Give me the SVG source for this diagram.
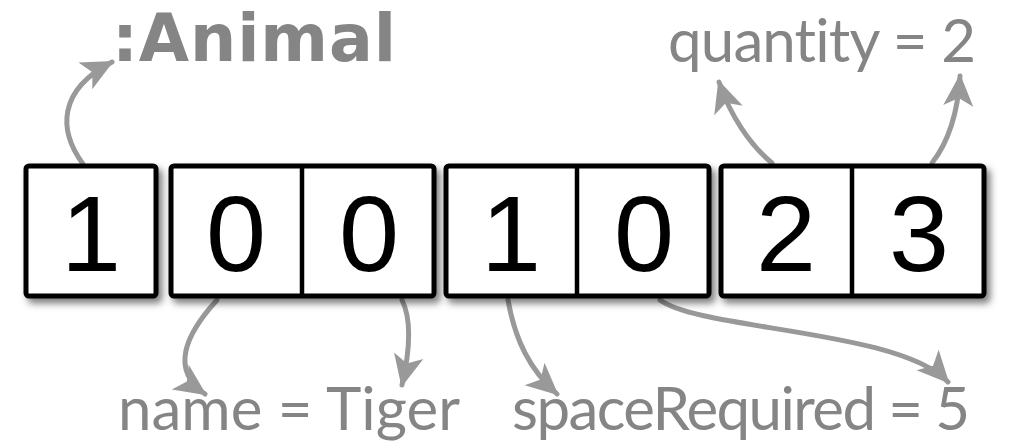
<svg xmlns="http://www.w3.org/2000/svg" width="1023" height="443" viewBox="0 0 1023 443">
<style>
.box{fill:#fff;stroke:#000;stroke-width:5;stroke-linejoin:round}
.div{stroke:#000;stroke-width:4.5}
.dig{font-family:"Liberation Sans",Arial,sans-serif;font-size:108px;fill:#000;text-anchor:middle}
.lbl{font-family:Lato,"Open Sans",sans-serif;fill:#858585;font-variant-ligatures:none;font-size:60px}
.arr{fill:none;stroke:#999;stroke-width:5;stroke-linecap:round}
</style>
<defs>
<filter id="sh" x="-10%" y="-10%" width="130%" height="140%">
<feDropShadow dx="4" dy="5" stdDeviation="3.5" flood-color="#000" flood-opacity="0.5"/>
</filter>
<marker id="ah" markerUnits="userSpaceOnUse" markerWidth="34" markerHeight="34" viewBox="0 0 34 34" refX="30" refY="17" orient="auto">
<path d="M0,2 L32,17 L0,32 L8,17 Z" fill="#999"/>
</marker>
</defs>
<g id="texts">
<text x="112" y="61" font-family="'DejaVu Sans',sans-serif" font-weight="bold" font-size="65" fill="#858585" textLength="284">:Animal</text>
<text class="lbl" x="668" y="62" textLength="308">quantity = 2</text>
<text class="lbl" x="118" y="430" textLength="342">name = Tiger</text>
<text class="lbl" x="512" y="430" textLength="458">spaceRequired = 5</text>
</g>
<g id="connectors">
<path class="arr" d="M83,164 C58,130 58,90 112,62" marker-end="url(#ah)"/>
<path class="arr" d="M772,163 C750,145 730,115 719,82" marker-end="url(#ah)"/>
<path class="arr" d="M932,163 C950,140 958,110 960,76" marker-end="url(#ah)"/>
<path class="arr" d="M217,300 C185,335 170,370 205,394" marker-end="url(#ah)"/>
<path class="arr" d="M402,300 C412,320 410,350 402,385" marker-end="url(#ah)"/>
<path class="arr" d="M508,300 C515,340 530,370 557,394" marker-end="url(#ah)"/>
<path class="arr" d="M660,300 C700,330 900,330 948,382" marker-end="url(#ah)"/>
</g>
<g id="node1" filter="url(#sh)">
<rect class="box" x="26" y="166" width="130" height="130" rx="3"/>
<text class="dig" x="91" y="271">1</text>
</g>
<g id="node2" filter="url(#sh)">
<rect class="box" x="171" y="166" width="263" height="130" rx="3"/>
<line class="div" x1="302" y1="166" x2="302" y2="296"/>
<text class="dig" x="236" y="271">0</text>
<text class="dig" x="369" y="271">0</text>
</g>
<g id="node3" filter="url(#sh)">
<rect class="box" x="446" y="166" width="263" height="130" rx="3"/>
<line class="div" x1="577" y1="166" x2="577" y2="296"/>
<text class="dig" x="511" y="271">1</text>
<text class="dig" x="644" y="271">0</text>
</g>
<g id="node4" filter="url(#sh)">
<rect class="box" x="721" y="166" width="263" height="130" rx="3"/>
<line class="div" x1="852" y1="166" x2="852" y2="296"/>
<text class="dig" x="786" y="271">2</text>
<text class="dig" x="919" y="271">3</text>
</g>
</svg>
